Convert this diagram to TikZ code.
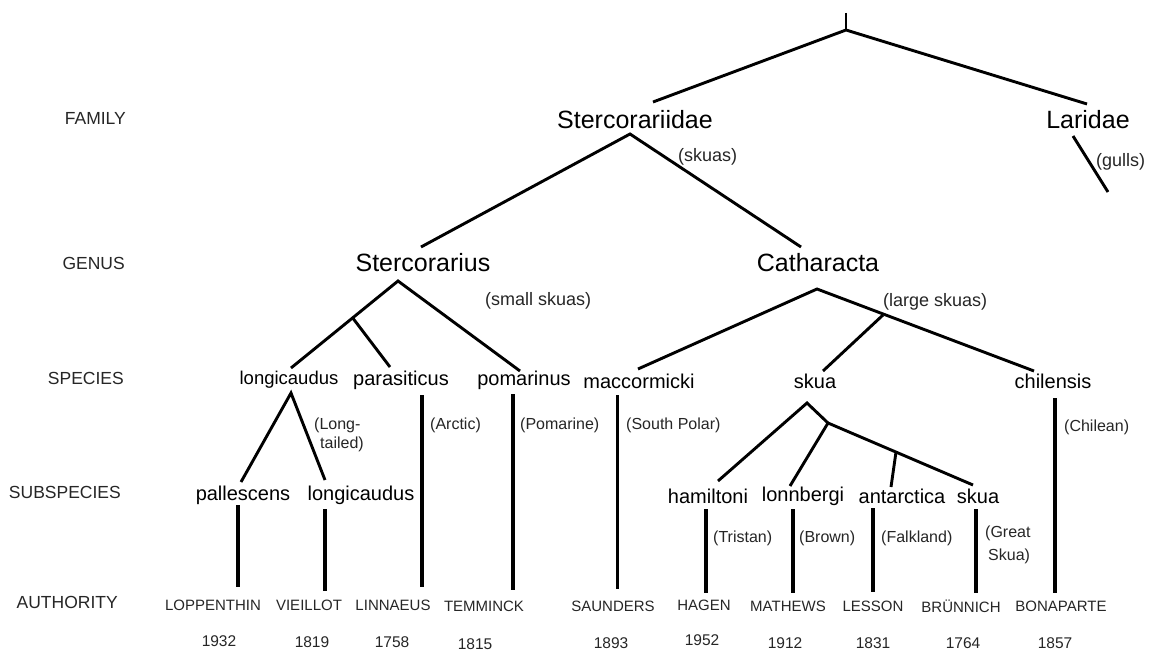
\documentclass[tikz,border=0pt]{standalone}
\usepackage{fontspec}
\setmainfont{Liberation Sans}
\begin{document}
\begin{tikzpicture}[x=1pt,y=-1pt,
  edge/.style={line width=2.9pt,line cap=butt},
  vedge/.style={line width=3.6pt},
  lvl/.style={anchor=east,inner sep=0pt,font=\fontsize{17.5}{19}\selectfont,text=black!85},
  big/.style={inner sep=0pt,font=\fontsize{25}{28}\selectfont},
  taxon/.style={inner sep=0pt,font=\fontsize{20}{22}\selectfont},
  auth/.style={inner sep=0pt,font=\fontsize{15}{17}\selectfont,text=black!85},
  yr/.style={inner sep=0pt,font=\fontsize{15.5}{17}\selectfont,text=black!85},
  note/.style={anchor=west,inner sep=0pt,font=\fontsize{16}{18}\selectfont,text=black!85},
  bignote/.style={anchor=west,inner sep=0pt,font=\fontsize{18}{20}\selectfont,text=black!85}]
\useasboundingbox[fill=white] (0,0) rectangle (1153,660);

% level labels
\node[lvl] (lFam) at (126,118) {FAMILY};
\node[lvl] (lGen) at (125,263) {GENUS};
\node[lvl] (lSpe) at (124,378) {SPECIES};
\node[lvl] (lSub) at (121,492) {SUBSPECIES};
\node[lvl] (lAut) at (118,602) {AUTHORITY};

% family / genus
\node[big] (fStc) at (635,120) {Stercorariidae};
\node[big] (fLar) at (1088,120) {Laridae};
\node[big] (gStc) at (423,263) {Stercorarius};
\node[big] (gCat) at (818,263) {Catharacta};
\node[bignote] (nSkuas) at (678,157) {(skuas)};
\node[bignote] (nGulls) at (1096,162) {(gulls)};
\node[bignote] (nSmall) at (485,301) {(small skuas)};
\node[bignote] (nLarge) at (883,302) {(large skuas)};

% species
\node[taxon,font=\fontsize{18.5}{22}\selectfont] (sLon) at (289,380) {longicaudus};
\node[taxon] (sPar) at (401,380) {parasiticus};
\node[taxon] (sPom) at (524,380) {pomarinus};
\node[taxon] (sMac) at (639,381) {maccormicki};
\node[taxon] (sSku) at (815,381) {skua};
\node[taxon] (sChi) at (1053,381) {chilensis};

% subspecies
\node[taxon] (uPal) at (243,495) {pallescens};
\node[taxon] (uLon) at (361,495) {longicaudus};
\node[taxon] (uHam) at (708,496) {hamiltoni};
\node[taxon] (uLnb) at (803,496) {lonnbergi};
\node[taxon] (uAnt) at (902,496) {antarctica};
\node[taxon] (uSku) at (978,496) {skua};

% common names
\node[note] (cLong) at (314,425) {(Long-};
\node[note] (cTail) at (320,444) {tailed)};
\node[note] (cArc) at (430,425) {(Arctic)};
\node[note] (cPom) at (520,425) {(Pomarine)};
\node[note] (cSou) at (626,425) {(South Polar)};
\node[note] (cChi) at (1064,427) {(Chilean)};
\node[note] (cTri) at (713,538) {(Tristan)};
\node[note] (cBro) at (799,538) {(Brown)};
\node[note] (cFal) at (881,538) {(Falkland)};
\node[note] (cGre) at (985,533) {(Great};
\node[note] (cGsk) at (988,556) {Skua)};

% authorities
\node[auth] (aLop) at (213,605) {LOPPENTHIN};
\node[auth] (aVie) at (309,605) {VIEILLOT};
\node[auth] (aLin) at (393,605) {LINNAEUS};
\node[auth] (aTem) at (484,606) {TEMMINCK};
\node[auth] (aSau) at (613,606) {SAUNDERS};
\node[auth] (aHag) at (704,605) {HAGEN};
\node[auth] (aMat) at (788,606) {MATHEWS};
\node[auth] (aLes) at (873,606) {LESSON};
\node[auth] (aBru) at (961,606) {BRÜNNICH};
\node[auth] (aBon) at (1061,606) {BONAPARTE};

% years
\node[yr] (y1) at (219,641) {1932};
\node[yr] (y2) at (312,642) {1819};
\node[yr] (y3) at (392,642) {1758};
\node[yr] (y4) at (475,644) {1815};
\node[yr] (y5) at (611,643) {1893};
\node[yr] (y6) at (702,640) {1952};
\node[yr] (y7) at (785,643) {1912};
\node[yr] (y8) at (873,643) {1831};
\node[yr] (y9) at (963,643) {1764};
\node[yr] (y10) at (1055,643) {1857};

% junction coordinates
\coordinate (rootTop) at (846,13);
\coordinate (root) at (846,30);
\coordinate (fStcTop) at (653,102);
\coordinate (fLarTop) at (1087,104);
\coordinate (larA) at (1073,136);
\coordinate (larB) at (1108,192);
\coordinate (fStcApex) at (630,134);
\coordinate (gStcTop) at (421,247);
\coordinate (gCatTop) at (801,247);
\coordinate (gStcApex) at (398,281);
\coordinate (jStc) at (352,317);
\coordinate (sLonTop) at (291,368);
\coordinate (sParTop) at (390,367);
\coordinate (sPomTop) at (520,371);
\coordinate (gCatApex) at (817,289);
\coordinate (jCat) at (883,315);
\coordinate (sMacTop) at (638,369);
\coordinate (sSkuTop) at (823,371);
\coordinate (sChiTop) at (1034,371);
\coordinate (sLonApex) at (291,393);
\coordinate (uPalTop) at (241,482);
\coordinate (uLonTop) at (325,480);
\coordinate (sSkuApex) at (807,403);
\coordinate (jSku) at (828,423);
\coordinate (jAnt) at (896,452);
\coordinate (uHamTop) at (718,481);
\coordinate (uLnbTop) at (790,486);
\coordinate (uAntTop) at (891,487);
\coordinate (uSkuTop) at (973,485);
% vertical line ends
\coordinate (vParA) at (422,395); \coordinate (vParB) at (422,587);
\coordinate (vPomA) at (513,394); \coordinate (vPomB) at (513,590);
\coordinate (vMacA) at (617.5,395); \coordinate (vMacB) at (617.5,589);
\coordinate (vChiA) at (1055,398); \coordinate (vChiB) at (1055,593);
\coordinate (vPalA) at (238,505); \coordinate (vPalB) at (238,587);
\coordinate (vLonA) at (325,509); \coordinate (vLonB) at (325,591);
\coordinate (vHamA) at (706,509); \coordinate (vHamB) at (706,593);
\coordinate (vLnbA) at (793,509); \coordinate (vLnbB) at (793,593);
\coordinate (vAntA) at (873,508); \coordinate (vAntB) at (873,592);
\coordinate (vSkuA) at (976,509); \coordinate (vSkuB) at (976,593);

% tree
\draw[edge] (rootTop) -- (root);
\draw[edge] (fStcTop) -- (root) -- (fLarTop);
\draw[edge] (larA) -- (larB);
\draw[edge] (gStcTop) -- (fStcApex) -- (gCatTop);
\draw[edge] (sLonTop) -- (gStcApex) -- (sPomTop);
\draw[edge] (jStc) -- (sParTop);
\draw[edge] (sMacTop) -- (gCatApex) -- (sChiTop);
\draw[edge] (jCat) -- (sSkuTop);
\draw[edge] (uPalTop) -- (sLonApex) -- (uLonTop);
\draw[edge] (uHamTop) -- (sSkuApex) -- (jSku) -- (uSkuTop);
\draw[edge] (jSku) -- (uLnbTop);
\draw[edge] (jAnt) -- (uAntTop);
% verticals
\foreach \v in {Par,Pom,Mac,Chi,Pal,Lon,Ham,Lnb,Ant,Sku}
  \draw[vedge] (v\v A) -- (v\v B);
\end{tikzpicture}
\end{document}
